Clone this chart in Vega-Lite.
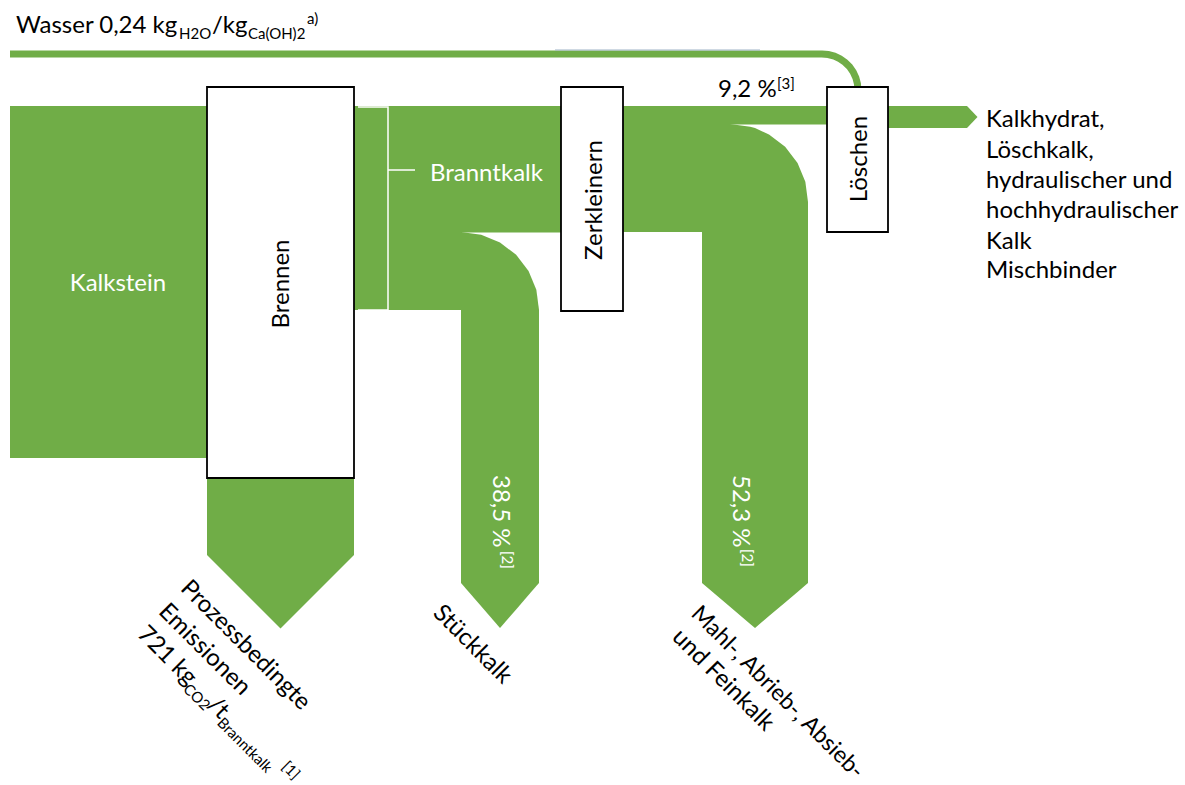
{
  "$schema": "https://vega.github.io/schema/vega-lite/v6.json",
  "width": 1185,
  "height": 785,
  "padding": 0,
  "autosize": {"type": "none"},
  "background": "white",
  "config": {"view": {"stroke": null}},
  "datasets": {
    "rects": [
      {"id": "Kalkstein", "x": 10, "x2": 207, "y": 106, "y2": 458},
      {"id": "Branntkalk", "x": 354, "x2": 562, "y": 106, "y2": 232.5},
      {"id": "Stueck-Zulauf", "x": 354, "x2": 462, "y": 232, "y2": 310},
      {"id": "Loeschen-Zulauf", "x": 561, "x2": 828, "y": 106, "y2": 124.5},
      {"id": "Mahl-Zulauf", "x": 561, "x2": 703, "y": 124, "y2": 232}
    ],
    "areas": [
      {"id": "Emission", "x": 207, "y": 470, "y2": 555},
      {"id": "Emission", "x": 280.5, "y": 470, "y2": 628.5},
      {"id": "Emission", "x": 354, "y": 470, "y2": 555},
      {"id": "Stueck", "x": 461, "y": 232, "y2": 583},
      {"id": "Stueck", "x": 481.19, "y": 234.66, "y2": 606.3},
      {"id": "Stueck", "x": 500, "y": 242.45, "y2": 628},
      {"id": "Stueck", "x": 516.15, "y": 254.85, "y2": 609.4},
      {"id": "Stueck", "x": 528.55, "y": 271, "y2": 595.1},
      {"id": "Stueck", "x": 536.34, "y": 289.81, "y2": 586.1},
      {"id": "Stueck", "x": 539, "y": 310, "y2": 583},
      {"id": "Mahl", "x": 702, "y": 124, "y2": 583},
      {"id": "Mahl", "x": 730, "y": 124, "y2": 606.8},
      {"id": "Mahl", "x": 750.19, "y": 126.66, "y2": 623.9},
      {"id": "Mahl", "x": 755, "y": 128.12, "y2": 628},
      {"id": "Mahl", "x": 769, "y": 134.45, "y2": 616.1},
      {"id": "Mahl", "x": 785.15, "y": 146.85, "y2": 602.4},
      {"id": "Mahl", "x": 797.55, "y": 163, "y2": 591.9},
      {"id": "Mahl", "x": 805.34, "y": 181.81, "y2": 585.3},
      {"id": "Mahl", "x": 808, "y": 202, "y2": 583},
      {"id": "Produkt", "x": 887, "y": 106, "y2": 128},
      {"id": "Produkt", "x": 967, "y": 106, "y2": 128},
      {"id": "Produkt", "x": 977.5, "y": 117, "y2": 117}
    ],
    "lines": [
      {"id": "Wasser", "o": 0, "x": 10, "y": 54, "c": "#70AD47", "w": 7},
      {"id": "Wasser", "o": 1, "x": 822, "y": 54, "c": "#70AD47", "w": 7},
      {"id": "Wasser", "o": 2, "x": 828.25, "y": 54.55, "c": "#70AD47", "w": 7},
      {"id": "Wasser", "o": 3, "x": 834.31, "y": 56.17, "c": "#70AD47", "w": 7},
      {"id": "Wasser", "o": 4, "x": 840, "y": 58.82, "c": "#70AD47", "w": 7},
      {"id": "Wasser", "o": 5, "x": 845.14, "y": 62.42, "c": "#70AD47", "w": 7},
      {"id": "Wasser", "o": 6, "x": 849.58, "y": 66.86, "c": "#70AD47", "w": 7},
      {"id": "Wasser", "o": 7, "x": 853.18, "y": 72, "c": "#70AD47", "w": 7},
      {"id": "Wasser", "o": 8, "x": 855.83, "y": 77.69, "c": "#70AD47", "w": 7},
      {"id": "Wasser", "o": 9, "x": 857.45, "y": 83.75, "c": "#70AD47", "w": 7},
      {"id": "Wasser", "o": 10, "x": 858, "y": 92, "c": "#70AD47", "w": 7},
      {"id": "Kante", "o": 0, "x": 555, "y": 50, "c": "#9FB3C8", "w": 1.2},
      {"id": "Kante", "o": 1, "x": 760, "y": 50, "c": "#9FB3C8", "w": 1.2},
      {"id": "Klammer", "o": 0, "x": 358, "y": 107, "c": "white", "w": 1.5},
      {"id": "Klammer", "o": 1, "x": 388, "y": 107, "c": "white", "w": 1.5},
      {"id": "Klammer", "o": 2, "x": 388, "y": 310, "c": "white", "w": 1.5},
      {"id": "Klammer", "o": 3, "x": 358, "y": 310, "c": "white", "w": 1.5},
      {"id": "Strich", "o": 0, "x": 388, "y": 170, "c": "white", "w": 1.5},
      {"id": "Strich", "o": 1, "x": 415, "y": 170, "c": "white", "w": 1.5}
    ],
    "boxes": [
      {"id": "Brennen", "x": 207, "x2": 354, "y": 87, "y2": 478},
      {"id": "Zerkleinern", "x": 561, "x2": 623, "y": 87, "y2": 311},
      {"id": "Löschen", "x": 827, "x2": 888, "y": 87, "y2": 232}
    ],
    "textsLeft": [
      {"x": 16, "y": 33, "t": "Wasser 0,24 kg", "s": 24, "a": 0, "c": "black"},
      {"x": 179, "y": 39, "t": "H2O", "s": 15, "a": 0, "c": "black"},
      {"x": 212, "y": 33, "t": "/kg", "s": 24, "a": 0, "c": "black"},
      {"x": 248, "y": 39, "t": "Ca(OH)2", "s": 15, "a": 0, "c": "black"},
      {"x": 307, "y": 24, "t": "a)", "s": 15, "a": 0, "c": "black"},
      {"x": 718, "y": 97, "t": "9,2 %", "s": 24, "a": 0, "c": "black"},
      {"x": 777, "y": 89, "t": "[3]", "s": 15, "a": 0, "c": "black"},
      {"x": 430, "y": 181, "t": "Branntkalk", "s": 24, "a": 0, "c": "white"},
      {"x": 493, "y": 475, "t": "38,5 %", "s": 24, "a": 90, "c": "white"},
      {"x": 502, "y": 551, "t": "[2]", "s": 15, "a": 90, "c": "white"},
      {"x": 733, "y": 475, "t": "52,3 %", "s": 24, "a": 90, "c": "white"},
      {"x": 742, "y": 549, "t": "[2]", "s": 15, "a": 90, "c": "white"},
      {"x": 179.4, "y": 589.4, "t": "Prozessbedingte", "s": 24, "a": 45, "c": "black"},
      {"x": 157.5, "y": 612.7, "t": "Emissionen", "s": 24, "a": 45, "c": "black"},
      {"x": 136.3, "y": 635.3, "t": "721 kg", "s": 24, "a": 45, "c": "black"},
      {"x": 182.3, "y": 689.9, "t": "CO2", "s": 15, "a": 45, "c": "black"},
      {"x": 206.3, "y": 706.3, "t": "/t", "s": 24, "a": 45, "c": "black"},
      {"x": 216.2, "y": 723.8, "t": "Branntkalk", "s": 15, "a": 45, "c": "black"},
      {"x": 281, "y": 767.5, "t": "[1]", "s": 15, "a": 45, "c": "black"},
      {"x": 431.9, "y": 614.2, "t": "Stückkalk", "s": 24, "a": 45, "c": "black"},
      {"x": 690, "y": 614.9, "t": "Mahl-, Abrieb-, Absieb-", "s": 23, "a": 45, "c": "black"},
      {"x": 671, "y": 638.2, "t": "und Feinkalk", "s": 24, "a": 45, "c": "black"},
      {"x": 986, "y": 127, "t": "Kalkhydrat,", "s": 24, "a": 0, "c": "black"},
      {"x": 986, "y": 157.5, "t": "Löschkalk,", "s": 24, "a": 0, "c": "black"},
      {"x": 986, "y": 188, "t": "hydraulischer und", "s": 24, "a": 0, "c": "black"},
      {"x": 986, "y": 218, "t": "hochhydraulischer", "s": 24, "a": 0, "c": "black"},
      {"x": 986, "y": 248.5, "t": "Kalk", "s": 24, "a": 0, "c": "black"},
      {"x": 986, "y": 278, "t": "Mischbinder", "s": 24, "a": 0, "c": "black"}
    ],
    "textsCenter": [
      {"x": 118, "y": 291, "t": "Kalkstein", "s": 24, "a": 0, "c": "white"},
      {"x": 289, "y": 284, "t": "Brennen", "s": 24, "a": -90, "c": "black"},
      {"x": 602, "y": 200, "t": "Zerkleinern", "s": 24, "a": -90, "c": "black"},
      {"x": 867, "y": 159, "t": "Löschen", "s": 24, "a": -90, "c": "black"}
    ]
  },
  "layer": [
    {
      "data": {"name": "rects"},
      "mark": {"type": "rect", "color": "#70AD47"},
      "encoding": {
        "x": {"field": "x", "type": "quantitative", "scale": {"domain": [0, 1185], "nice": false, "zero": false}, "axis": null},
        "x2": {"field": "x2"},
        "y": {"field": "y", "type": "quantitative", "scale": {"domain": [0, 785], "nice": false, "zero": false, "reverse": true}, "axis": null},
        "y2": {"field": "y2"}
      }
    },
    {
      "data": {"name": "areas"},
      "mark": {"type": "area", "color": "#70AD47", "orient": "vertical"},
      "encoding": {
        "x": {"field": "x", "type": "quantitative"},
        "y": {"field": "y", "type": "quantitative"},
        "y2": {"field": "y2"},
        "detail": {"field": "id"}
      }
    },
    {
      "data": {"name": "lines"},
      "mark": {"type": "line", "strokeCap": "butt", "strokeJoin": "miter"},
      "encoding": {
        "x": {"field": "x", "type": "quantitative"},
        "y": {"field": "y", "type": "quantitative"},
        "detail": {"field": "id"},
        "order": {"field": "o", "type": "quantitative"},
        "color": {"field": "c", "type": "nominal", "scale": null},
        "strokeWidth": {"field": "w", "type": "quantitative", "scale": null}
      }
    },
    {
      "data": {"name": "boxes"},
      "mark": {"type": "rect", "fill": "white", "stroke": "black", "strokeWidth": 1.8},
      "encoding": {
        "x": {"field": "x", "type": "quantitative"},
        "x2": {"field": "x2"},
        "y": {"field": "y", "type": "quantitative"},
        "y2": {"field": "y2"}
      }
    },
    {
      "data": {"name": "textsLeft"},
      "mark": {"type": "text", "font": "Lato", "align": "left", "baseline": "alphabetic"},
      "encoding": {
        "x": {"field": "x", "type": "quantitative"},
        "y": {"field": "y", "type": "quantitative"},
        "text": {"field": "t"},
        "size": {"field": "s", "type": "quantitative", "scale": null},
        "angle": {"field": "a", "type": "quantitative", "scale": null},
        "color": {"field": "c", "type": "nominal", "scale": null}
      }
    },
    {
      "data": {"name": "textsCenter"},
      "mark": {"type": "text", "font": "Lato", "align": "center", "baseline": "alphabetic"},
      "encoding": {
        "x": {"field": "x", "type": "quantitative"},
        "y": {"field": "y", "type": "quantitative"},
        "text": {"field": "t"},
        "size": {"field": "s", "type": "quantitative", "scale": null},
        "angle": {"field": "a", "type": "quantitative", "scale": null},
        "color": {"field": "c", "type": "nominal", "scale": null}
      }
    }
  ]
}
